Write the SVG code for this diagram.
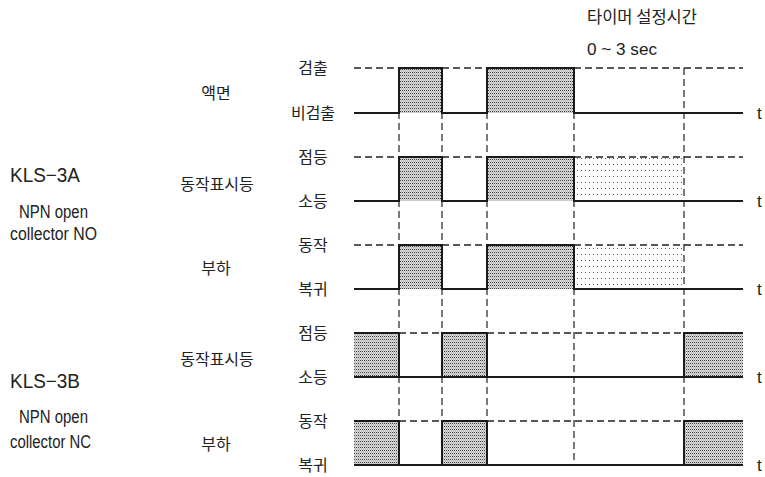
<svg xmlns="http://www.w3.org/2000/svg" width="765" height="477" viewBox="0 0 765 477">
<style>
.kr{font-family:"Noto Sans CJK KR","Noto Sans",sans-serif;font-size:16px;fill:#222}
.lat{font-family:"Liberation Sans","Noto Sans CJK KR",sans-serif;fill:#222}
.mid{text-anchor:middle}
.sig{fill:none;stroke:#1a1a1a;stroke-width:2;stroke-linejoin:miter}
.hi{fill:none;stroke:#222;stroke-width:1.3;stroke-dasharray:7 4}
.vd{fill:none;stroke:#222;stroke-width:1.2;stroke-dasharray:7 4}
.on{fill:url(#dense);stroke:none}
.tm{fill:url(#light);stroke:none}
</style>
<defs>
<pattern id="dense" patternUnits="userSpaceOnUse" width="2" height="3">
<rect width="2" height="3" fill="#dcdcdc"/>
<rect x="0" y="0" width="1" height="1" fill="#3a3a3a"/>
<rect x="1" y="1.5" width="1" height="1" fill="#9a9a9a"/>
</pattern>
<pattern id="light" patternUnits="userSpaceOnUse" width="4" height="6">
<rect x="1" y="2" width="1" height="1" fill="#555"/>
</pattern>
</defs>

<g id="header">
<text class="kr" x="587" y="23" font-size="16.5" style="font-size:16.5px">타이머 설정시간</text>
<text class="lat" x="587" y="55" font-size="17" textLength="70" lengthAdjust="spacingAndGlyphs">0 ~ 3 sec</text>
</g>

<g id="kls3a">
<text class="lat" x="10" y="182" font-size="20" textLength="70" lengthAdjust="spacingAndGlyphs">KLS−3A</text>
<text class="lat" x="19" y="218" font-size="17.5" textLength="69" lengthAdjust="spacingAndGlyphs">NPN open</text>
<text class="lat" x="10" y="240" font-size="17.5" textLength="87" lengthAdjust="spacingAndGlyphs">collector NO</text>
</g>
<g id="kls3b">
<text class="lat" x="10" y="388" font-size="20" textLength="70" lengthAdjust="spacingAndGlyphs">KLS−3B</text>
<text class="lat" x="19" y="423" font-size="17.5" textLength="69" lengthAdjust="spacingAndGlyphs">NPN open</text>
<text class="lat" x="10" y="448" font-size="17.5" textLength="81" lengthAdjust="spacingAndGlyphs">collector NC</text>
</g>

<g id="fills">
<rect class="on" x="399" y="68" width="43" height="45"/>
<rect class="on" x="487" y="68" width="87" height="45"/>
<rect class="on" x="399" y="157" width="43" height="44"/>
<rect class="on" x="487" y="157" width="87" height="44"/>
<rect class="tm" x="575" y="157" width="109" height="44"/>
<rect class="on" x="399" y="245" width="43" height="44"/>
<rect class="on" x="487" y="245" width="87" height="44"/>
<rect class="tm" x="575" y="245" width="109" height="44"/>
<rect class="on" x="354" y="333" width="45" height="44"/>
<rect class="on" x="442" y="333" width="45" height="44"/>
<rect class="on" x="684" y="333" width="59" height="44"/>
<rect class="on" x="354" y="421" width="45" height="44"/>
<rect class="on" x="442" y="421" width="45" height="44"/>
<rect class="on" x="684" y="421" width="59" height="44"/>
</g>

<g id="connectors">
<path class="vd" d="M399 68V465M442 68V465M487 68V465M574 68V465M684 68V465"/>
<path class="hi" d="M354 68H399M442 68H487M574 68H743"/>
<path class="hi" d="M354 157H399M442 157H487M574 157H743"/>
<path class="hi" d="M354 245H399M442 245H487M574 245H743"/>
<path class="hi" d="M399 333H442M487 333H684"/>
<path class="hi" d="M399 421H442M487 421H684"/>
</g>

<g id="row1">
<text class="kr mid" x="216" y="99">액면</text>
<text class="kr mid" x="313" y="74">검출</text>
<text class="kr mid" x="313" y="119">비검출</text>
<text class="lat" x="757" y="119" font-size="17">t</text>
<path class="sig" d="M354 113H399V68H442V113H487V68H574V113H743"/>
</g>
<g id="row2">
<text class="kr mid" x="217" y="190">동작표시등</text>
<text class="kr mid" x="313" y="163">점등</text>
<text class="kr mid" x="313" y="207">소등</text>
<text class="lat" x="757" y="207" font-size="17">t</text>
<path class="sig" d="M354 201H399V157H442V201H487V157H574V201H743"/>
</g>
<g id="row3">
<text class="kr mid" x="216" y="274">부하</text>
<text class="kr mid" x="313" y="251">동작</text>
<text class="kr mid" x="313" y="295">복귀</text>
<text class="lat" x="757" y="295" font-size="17">t</text>
<path class="sig" d="M354 289H399V245H442V289H487V245H574V289H743"/>
</g>
<g id="row4">
<text class="kr mid" x="217" y="365">동작표시등</text>
<text class="kr mid" x="313" y="339">점등</text>
<text class="kr mid" x="313" y="383">소등</text>
<text class="lat" x="757" y="383" font-size="17">t</text>
<path class="sig" d="M354 333H399V377H442V333H487V377H684V333H743"/>
<path class="sig" d="M354 377H399M442 377H487M684 377H743"/>
</g>
<g id="row5">
<text class="kr mid" x="216" y="450">부하</text>
<text class="kr mid" x="313" y="427">동작</text>
<text class="kr mid" x="313" y="471">복귀</text>
<text class="lat" x="757" y="471" font-size="17">t</text>
<path class="sig" d="M354 421H399V465H442V421H487V465H684V421H743"/>
<path class="sig" d="M354 465H399M442 465H487M684 465H743"/>
</g>
</svg>
